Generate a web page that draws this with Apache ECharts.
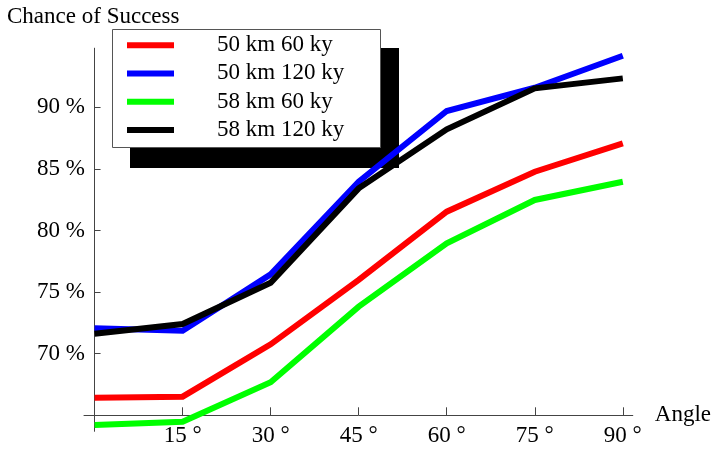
<!DOCTYPE html>
<html>
<head>
<meta charset="utf-8">
<script src="https://cdn.jsdelivr.net/npm/echarts@6/dist/echarts.min.js"></script>
<style>
  html, body { margin: 0; padding: 0; background: #fff; }
  #chart { width: 714px; height: 449px; }
</style>
</head>
<body>
<div id="chart"></div>
<script>
// Launch angle (degrees) and success chance (%) for each scenario
const angles = [0, 15, 30, 45, 60, 75, 90];
const km50ky60 = [66.43, 66.51, 70.76, 75.99, 81.53, 84.77, 87.08];
const km50ky120 = [72.06, 71.87, 76.44, 83.96, 89.70, 91.59, 94.19];
const km58ky60 = [64.21, 64.48, 67.68, 73.82, 78.96, 82.48, 83.96];
const km58ky120 = [71.62, 72.41, 75.76, 83.42, 88.21, 91.54, 92.35];

const seriesNames = ['50 km 60 ky', '50 km 120 ky', '58 km 60 ky', '58 km 120 ky'];
const seriesColors = ['#ff0000', '#0000ff', '#00ff00', '#000000'];
const seriesValues = [km50ky60, km50ky120, km58ky60, km58ky120];

const xTicks = [15, 30, 45, 60, 75, 90];
const yTicks = [70, 75, 80, 85, 90];

const font = 'Liberation Serif';
const fontSize = 23;
const axisColor = '#444';

const chart = echarts.init(document.getElementById('chart'), null, { renderer: 'canvas' });

chart.setOption({
  animation: false,
  backgroundColor: '#fff',
  textStyle: { fontFamily: font },
  title: {
    text: 'Chance of Success',
    left: 2,
    top: 0,
    textStyle: { fontFamily: font, fontSize: fontSize, fontWeight: 'normal', color: '#000' }
  },
  // legend frame with its solid drop shadow, drawn above the lines
  graphic: [
    {
      type: 'rect',
      z: 3,
      silent: true,
      shape: { x: 130, y: 48, width: 269, height: 120 },
      style: { fill: '#000' }
    },
    {
      type: 'rect',
      z: 3,
      silent: true,
      shape: { x: 112.5, y: 29.5, width: 268, height: 118 },
      style: { fill: '#fff', stroke: '#555', lineWidth: 1 }
    }
  ],
  legend: {
    orient: 'vertical',
    left: 112,
    top: 29,
    z: 4,
    padding: [2, 37, 3, 15],
    itemWidth: 47,
    itemHeight: 6,
    itemGap: 0,
    icon: 'rect',
    backgroundColor: 'transparent',
    borderWidth: 0,
    textStyle: {
      fontFamily: font,
      fontSize: fontSize,
      color: '#000',
      lineHeight: 28.3,
      padding: [0, 0, 0, 38]
    },
    data: seriesNames
  },
  grid: {
    left: 84,
    right: 80.7,
    top: 48.2,
    bottom: 17.7,
    containLabel: false
  },
  xAxis: {
    type: 'value',
    min: -1.8,
    max: 91.7,
    offset: -16,
    name: 'Angle',
    nameLocation: 'end',
    nameGap: 22,
    nameTextStyle: { fontFamily: font, fontSize: fontSize, color: '#000', padding: [0, 0, 4, 0] },
    axisLine: { show: true, onZero: false, lineStyle: { color: axisColor, width: 1 } },
    axisTick: { show: true, inside: true, length: 8, customValues: xTicks, lineStyle: { color: axisColor } },
    axisLabel: {
      show: true,
      margin: 9,
      customValues: xTicks,
      fontFamily: font,
      fontSize: fontSize,
      color: '#000',
      formatter: v => v + ' °'
    },
    splitLine: { show: false }
  },
  yAxis: {
    type: 'value',
    min: 63.7,
    max: 94.8,
    axisLine: { show: true, onZero: true, lineStyle: { color: axisColor, width: 1 } },
    axisTick: { show: true, inside: true, length: 6, customValues: yTicks, lineStyle: { color: axisColor } },
    axisLabel: {
      show: true,
      margin: -1,
      customValues: yTicks,
      fontFamily: font,
      fontSize: fontSize,
      color: '#000',
      formatter: v => v + ' %'
    },
    splitLine: { show: false }
  },
  series: seriesNames.map((name, i) => ({
    name: name,
    type: 'line',
    data: angles.map((a, j) => [a, seriesValues[i][j]]),
    symbol: 'none',
    color: seriesColors[i],
    lineStyle: { color: seriesColors[i], width: 6, join: 'miter' }
  }))
});
</script>
</body>
</html>
